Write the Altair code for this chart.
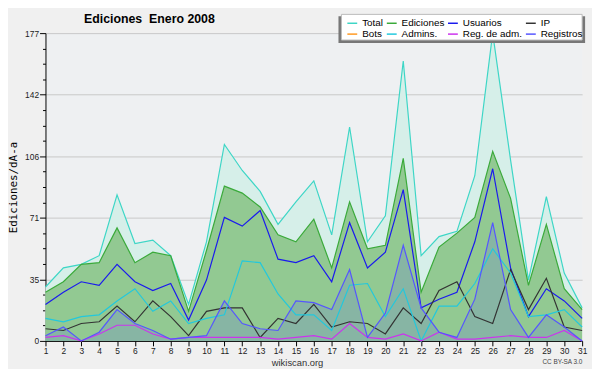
import altair as alt
import pandas as pd

days = list(range(1, 32))
series_names = ["Total", "Ediciones", "Usuarios", "IP", "Bots", "Admins.", "Reg. de adm.", "Registros"]
series_colors = ["#3dd6c6", "#3aaa3a", "#1a1aee", "#333333", "#ff9922", "#22c8dd", "#cc33ee", "#5555ff"]

total = [31, 42, 44, 49, 84, 56, 58, 49, 21, 57, 113, 98, 86, 67, 80, 92, 61, 123, 57, 72, 161, 49, 60, 63, 95, 177, 104, 35, 83, 39, 19]
ediciones = [28, 34, 44, 45, 65, 45, 51, 49, 17, 52, 89, 85, 77, 61, 57, 70, 42, 80, 53, 55, 105, 28, 54, 62, 71, 109, 82, 32, 67, 30, 18]
usuarios = [21, 28, 34, 32, 44, 34, 29, 33, 12, 35, 71, 66, 75, 47, 45, 49, 34, 68, 42, 51, 87, 19, 24, 28, 57, 99, 42, 14, 30, 23, 13]
ip = [7, 6, 10, 11, 20, 11, 23, 14, 3, 17, 19, 19, 2, 13, 10, 21, 8, 11, 10, 4, 19, 10, 29, 34, 14, 10, 41, 18, 36, 8, 6]
admins = [13, 11, 14, 15, 23, 30, 17, 23, 10, 13, 15, 46, 45, 27, 15, 15, 6, 32, 33, 14, 30, 0, 20, 20, 33, 53, 39, 14, 15, 18, 8]
reg_adm = [2, 3, 0, 4, 9, 9, 4, 1, 2, 2, 2, 2, 2, 1, 2, 3, 1, 10, 2, 1, 4, 0, 5, 1, 1, 2, 3, 2, 2, 6, 0]
registros = [3, 8, 0, 5, 18, 10, 6, 1, 2, 3, 23, 10, 7, 6, 23, 22, 18, 41, 2, 16, 55, 19, 5, 2, 24, 68, 18, 2, 15, 8, 0]

title_text = "Ediciones\u00a0 Enero 2008"
credit_text = "CC BY-SA 3.0"

series_data = {
    "Total": total,
    "Ediciones": ediciones,
    "Usuarios": usuarios,
    "IP": ip,
    "Admins.": admins,
    "Reg. de adm.": reg_adm,
    "Registros": registros,
}

rows = []
for name, vals in series_data.items():
    for d, v in zip(days, vals):
        rows.append({"day": d, "series": name, "value": v})
df = pd.DataFrame(rows)

ymax = 177
tick_vals = [ymax * i / 20 for i in range(21)]
major_test = "round(datum.value*20/177) % 4 == 0"

x_enc = alt.X("day:Q", scale=alt.Scale(domain=[1, 31], nice=False, zero=False),
              axis=alt.Axis(values=days, title="wikiscan.org", labelAngle=0, grid=False,
                            tickSize=5, tickColor="black", domainColor="black",
                            labelFont="Liberation Sans", labelFontSize=8.5, labelColor="#222",
                            labelPadding=1, labelFlush=False, labelOverlap=False,
                            titleFont="Liberation Sans", titleFontSize=9.5, titleFontWeight="normal",
                            titleColor="#333", titleX=255, titleY=22, titleBaseline="middle"))
y_enc = alt.Y("value:Q", scale=alt.Scale(domain=[0, ymax], nice=False),
              axis=alt.Axis(values=tick_vals, title="Ediciones/dÃ-a",
                            labelExpr="(" + major_test + ") ? format(datum.value, '.0f') : ''",
                            labelFont="Liberation Sans", labelFontSize=8.5, labelColor="#222",
                            labelPadding=1, labelOverlap=False,
                            tickSize={"condition": {"test": major_test, "value": 6}, "value": 3},
                            tickColor="black", domainColor="black",
                            gridColor="#c8c8c8",
                            gridOpacity={"condition": {"test": major_test, "value": 1}, "value": 0},
                            titleFont="DejaVu Sans Mono", titleFontSize=11, titleFontWeight="normal",
                            titleColor="black", titleX=-32, titleY=156, titleAlign="center",
                            titleBaseline="middle", titleAngle=-90))

base = alt.Chart(df)

area_total = base.transform_filter(alt.datum.series == "Total").mark_area(
    color="#d6efe9").encode(x=x_enc, y=y_enc)
area_edic = base.transform_filter(alt.datum.series == "Ediciones").mark_area(
    color="#92c992").encode(x=x_enc, y=y_enc)
area_reg = base.transform_filter(alt.datum.series == "Registros").mark_area(
    color="#5555ff", opacity=0.17).encode(x=x_enc, y=y_enc)

lines = base.mark_line(strokeWidth=1.2).encode(
    x=x_enc, y=y_enc,
    color=alt.Color("series:N",
                    scale=alt.Scale(domain=series_names, range=series_colors),
                    sort=series_names,
                    legend=alt.Legend(title=None, orient="none", legendX=302, legendY=-19,
                                      direction="horizontal", gridAlign="each",
                                      columns=4, columnPadding=0, rowPadding=0, padding=3,
                                      symbolType="stroke", symbolSize=100, symbolStrokeWidth=1.5,
                                      labelFont="Liberation Sans", labelFontSize=10,
                                      labelColor="black", labelOffset=4, labelLimit=200)),
)

one = pd.DataFrame({"t": [title_text], "c": [credit_text]})
shadow = alt.Chart(one).mark_rect(color="#777777").encode(
    x=alt.value(297), x2=alt.value(547), y=alt.value(-17), y2=alt.value(10))
box = alt.Chart(one).mark_rect(
    color="white", stroke="#bbbbbb", strokeWidth=1).encode(
    x=alt.value(300), x2=alt.value(544), y=alt.value(-19), y2=alt.value(7))
credit = alt.Chart(one).mark_text(
    font="Liberation Sans", fontSize=6.5, color="#444").encode(
    x=alt.value(524), y=alt.value(333), text="c:N")
title = alt.Chart(one).mark_text(
    font="Liberation Sans", fontSize=12.5, fontWeight="bold", color="black",
    align="left", baseline="middle").encode(
    x=alt.value(39), y=alt.value(-14), text="t:N")

chart = alt.layer(area_total, area_edic, area_reg, lines, shadow, box, credit, title).properties(
    width=544, height=312,
    autosize=alt.AutoSizeParams(type="none"),
    padding={"left": 38, "top": 23, "right": 10, "bottom": 26},
    background="#f0f0f0",
).configure_view(fill="#eef0f2", stroke=None).configure_axis(labelOverlap=False)

chart.save("out.html", embed_options={"renderer": "svg", "actions": False})
